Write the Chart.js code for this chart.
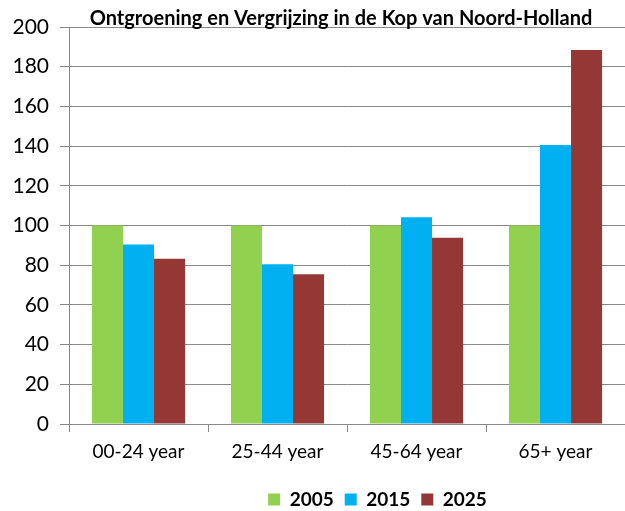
<!DOCTYPE html>
<html>
<head>
<meta charset="utf-8">
<script src="https://cdn.jsdelivr.net/npm/chart.js@4"></script>
<style>
  html, body { margin: 0; padding: 0; background: #fff; }
  #wrap { width: 625px; height: 511px; }
</style>
</head>
<body>
<div id="wrap"><canvas id="id-chartVergrijzing"></canvas></div>
<script>
var chartTitle = "Ontgroening en Vergrijzing in de Kop van Noord-Holland";
var ageGroups = ["00-24 year", "25-44 year", "45-64 year", "65+ year"];
var seriesNames = ["2005", "2015", "2025"];
var values2005 = [100, 100, 100, 100];
var values2015 = [90.4, 80.5, 104.2, 140.6];
var values2025 = [83.2, 75.5, 93.8, 188.4];
var yTicks = [0, 20, 40, 60, 80, 100, 120, 140, 160, 180, 200];

var gridColor = "#888888";
var fontFamily = "Lato, 'Open Sans', sans-serif";

// title is drawn on top of the 200 gridline, like the original
var titlePlugin = {
  id: "overlayTitle",
  afterDraw: function(chart) {
    var ctx = chart.ctx;
    ctx.save();
    ctx.font = "bold 20px " + fontFamily;
    ctx.fillStyle = "#000";
    ctx.textAlign = "center";
    ctx.textBaseline = "alphabetic";
    ctx.fillText(chartTitle, 341, 25);
    ctx.restore();
  }
};

// the legend sits right of centre and low in the original
var legendShift = {
  id: "legendShift",
  afterLayout: function(chart) {
    var lg = chart.legend;
    lg.left += 65; lg.right += 65;
    lg.top += 8; lg.bottom += 8;
  }
};

// ----------------------------- chart start -----------------------------
new Chart("id-chartVergrijzing", {
  type: "bar",
  data: {
    labels: ageGroups,
    datasets: [
      {label: seriesNames[0], backgroundColor: "#92d050", data: values2005},
      {label: seriesNames[1], backgroundColor: "#00b0f0", data: values2015},
      {label: seriesNames[2], backgroundColor: "#953735", data: values2025}
    ]
  },
  options: {
    responsive: true,
    maintainAspectRatio: false,
    animation: false,
    categoryPercentage: 0.67,
    barPercentage: 1.0,
    layout: {padding: {top: 27, left: 0, right: 0, bottom: 0}},
    plugins: {
      title: {display: false},
      tooltip: {enabled: false},
      legend: {
        position: "bottom",
        labels: {
          boxWidth: 12,
          boxHeight: 12,
          padding: 11,
          color: "#000",
          font: {family: fontFamily, size: 19, weight: "bold"}
        }
      }
    },
    scales: {
      x: {
        grid: {display: true, drawOnChartArea: false, drawTicks: true, tickLength: 8, color: gridColor},
        border: {display: true, color: gridColor},
        ticks: {color: "#000", padding: 8, font: {family: fontFamily, size: 19}},
        afterFit: function(scale) { scale.height = 47; }
      },
      y: {
        min: 0,
        max: 200,
        afterBuildTicks: function(scale) {
          scale.ticks = yTicks.map(function(v) { return {value: v}; });
        },
        grid: {color: gridColor, tickLength: 9},
        border: {display: true, color: gridColor},
        ticks: {color: "#000", padding: 11, font: {family: fontFamily, size: 21}},
        afterFit: function(scale) { scale.width = 69; }
      }
    }
  },
  plugins: [titlePlugin, legendShift]
});
// ----------------------------- chart end -----------------------------
</script>
</body>
</html>
